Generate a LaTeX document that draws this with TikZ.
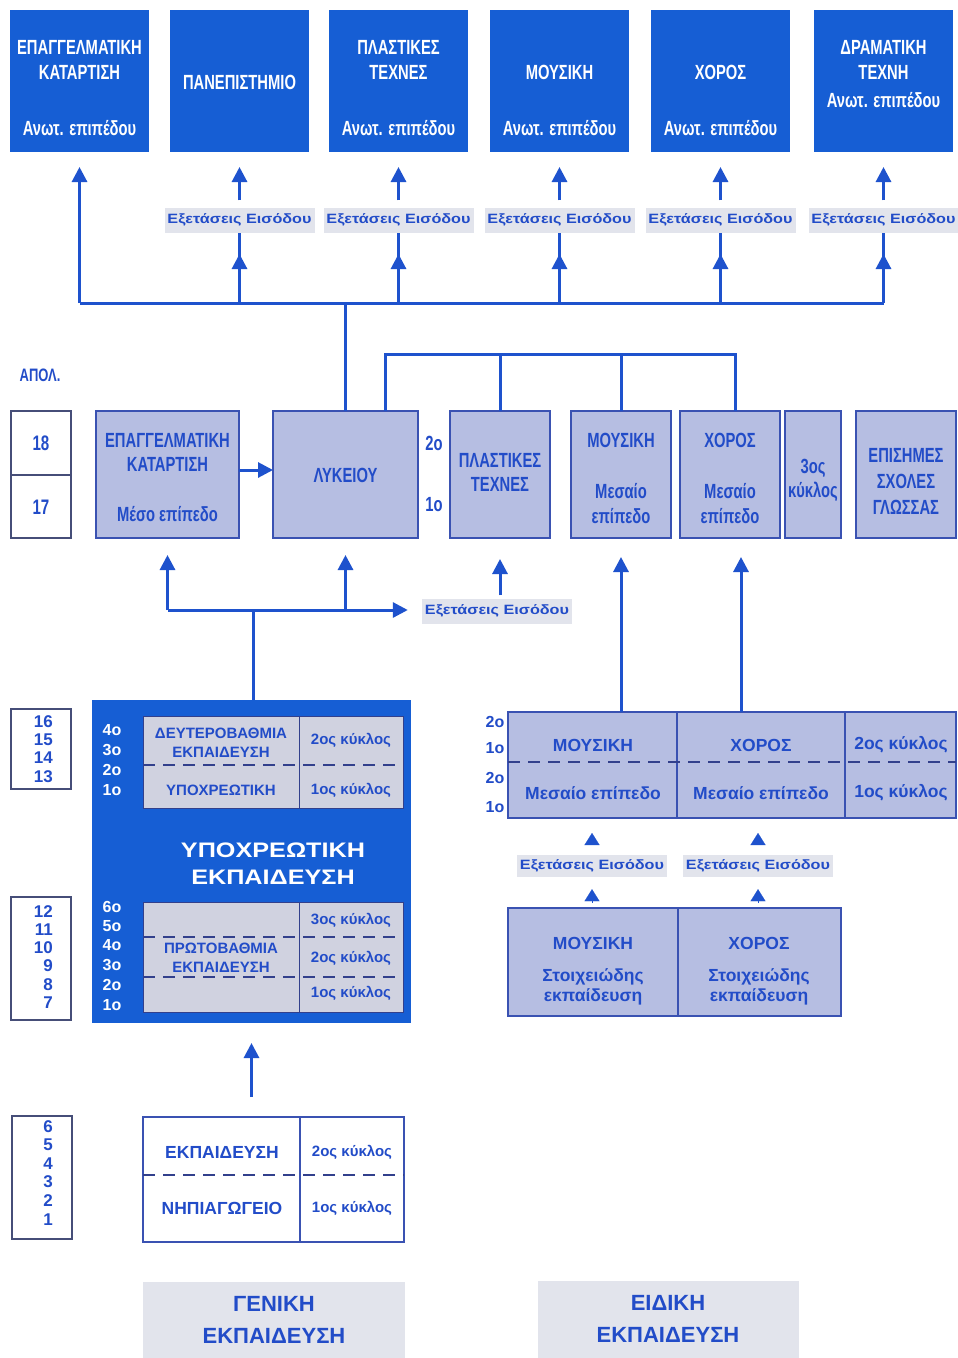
\documentclass[tikz,border=0pt]{standalone}
\usepackage{fontspec}
\setmainfont{Liberation Sans}
\newfontfamily\condf[FakeStretch=0.72]{Liberation Sans}
\newfontfamily\widef[FakeStretch=1.2]{Liberation Sans}
\usetikzlibrary{arrows.meta}
\definecolor{dblue}{RGB}{22,94,212}
\definecolor{lblue}{RGB}{182,190,226}
\definecolor{tblue}{RGB}{34,76,200}
\definecolor{cblue}{RGB}{30,82,205}
\definecolor{pgray}{RGB}{208,210,224}
\definecolor{xgray}{RGB}{226,228,236}
\definecolor{bord}{RGB}{58,82,178}
\definecolor{navy}{RGB}{50,64,140}
\definecolor{ageb}{RGB}{70,78,120}
\begin{document}
\begin{tikzpicture}[x=1pt,y=-1pt,
  box/.style={anchor=north west, inner sep=0pt, outer sep=0pt},
  topbox/.style={box, fill=dblue, minimum width=139pt, minimum height=142pt},
  midbox/.style={box, fill=lblue, draw=bord, line width=2pt, minimum height=127pt},
  panel/.style={box, fill=pgray, draw=navy, line width=0.8pt},
  rcell/.style={box, fill=lblue, draw=bord, line width=2pt},
  wcell/.style={box, fill=white, draw=bord, line width=1.5pt},
  agebox/.style={box, draw=ageb, line width=1.5pt, minimum width=60pt},
  graybox/.style={box, fill=xgray},
  exlab/.style={fill=xgray, minimum width=150pt, minimum height=25pt, inner sep=0pt, text=tblue, font=\widef\bfseries\fontsize{13.5}{15}\selectfont},
  toptxt/.style={inner sep=0pt, text=white, font=\condf\bfseries\fontsize{20.5}{22}\selectfont},
  midtxt/.style={inner sep=0pt, text=tblue, font=\condf\bfseries\fontsize{20.5}{23}\selectfont},
  pantxt/.style={inner sep=0pt, text=tblue, font=\bfseries\fontsize{15}{17}\selectfont},
  rtxt/.style={inner sep=0pt, text=tblue, font=\bfseries\fontsize{17.5}{19}\selectfont},
  gradew/.style={inner sep=0pt, text=white, font=\bfseries\fontsize{16}{18}\selectfont},
  grader/.style={inner sep=0pt, text=tblue, font=\bfseries\fontsize{16}{18}\selectfont},
  agenum/.style={inner sep=0pt, anchor=east, text=tblue, font=\bfseries\fontsize{17}{18}\selectfont},
  bignum/.style={inner sep=0pt, text=tblue, font=\condf\bfseries\fontsize{21}{23}\selectfont},
  titletxt/.style={inner sep=0pt, text=white, font=\widef\bfseries\fontsize{21}{24}\selectfont},
  gentxt/.style={inner sep=0pt, text=tblue, font=\bfseries\fontsize{22}{24}\selectfont},
  line/.style={draw=cblue, line width=3pt},
  arr/.style={line, -{Triangle[length=15pt,width=15pt]}},
  tri/.style={draw=cblue, line width=0.1pt, -{Triangle[length=12pt,width=15pt]}},
  dashln/.style={draw=navy, line width=2pt, dash pattern=on 12pt off 8pt}
]
\fill[white] (0,0) rectangle (958,1358);
\useasboundingbox (0,0) rectangle (958,1358);

% ---------- top row ----------
\node[topbox] (t1) at (10,10) {};
\node[topbox] (t2) at (170,10) {};
\node[topbox] (t3) at (329,10) {};
\node[topbox] (t4) at (490,10) {};
\node[topbox] (t5) at (651,10) {};
\node[topbox] (t6) at (814,10) {};

\node[toptxt] (t1a) at (79.5,47) {ΕΠΑΓΓΕΛΜΑΤΙΚΗ};
\node[toptxt] (t1b) at (79.5,72) {ΚΑΤΑΡΤΙΣΗ};
\node[toptxt] (t1c) at (79.5,128) {Ανωτ. επιπέδου};
\node[toptxt] (t2a) at (239.5,82) {ΠΑΝΕΠΙΣΤΗΜΙΟ};
\node[toptxt] (t3a) at (398.5,47) {ΠΛΑΣΤΙΚΕΣ};
\node[toptxt] (t3b) at (398.5,72) {ΤΕΧΝΕΣ};
\node[toptxt] (t3c) at (398.5,128) {Ανωτ. επιπέδου};
\node[toptxt] (t4a) at (559.5,72) {ΜΟΥΣΙΚΗ};
\node[toptxt] (t4c) at (559.5,128) {Ανωτ. επιπέδου};
\node[toptxt] (t5a) at (720.5,72) {ΧΟΡΟΣ};
\node[toptxt] (t5c) at (720.5,128) {Ανωτ. επιπέδου};
\node[toptxt] (t6a) at (883.5,47) {ΔΡΑΜΑΤΙΚΗ};
\node[toptxt] (t6b) at (883.5,72) {ΤΕΧΝΗ};
\node[toptxt] (t6c) at (883.5,100) {Ανωτ. επιπέδου};

\coordinate (hl) at (0,303);
\foreach \k in {2,...,6}{
  \node[exlab] (e\k) at (t\k.south |- 0,220) {Εξετάσεις Εισόδου};
  \draw[line] (t\k.south |- hl) -- (e\k.south);
  \draw[arr] (t\k.south |- hl) -- (t\k.south |- 0,254);
  \draw[arr, shorten <=7pt, shorten >=15pt] (e\k.north) -- (t\k.south);
}
\draw[line] (t1.south |- hl) -- (t6.south |- hl);
\draw[arr, shorten >=15pt] (t1.south |- hl) -- (t1.south);

% ---------- middle row ----------
\node[inner sep=0pt, text=tblue, font=\condf\bfseries\fontsize{18}{20}\selectfont] (apol) at (40,375) {ΑΠΟΛ.};

\node[agebox, minimum height=127pt] (ag1) at (11,411) {};
\draw[draw=ageb, line width=1.5pt] (ag1.west |- 0,475) -- (ag1.east |- 0,475);
\node[bignum] (n18) at (41,443) {18};
\node[bignum] (n17) at (41,507) {17};

\node[midbox, minimum width=143pt] (ek) at (96,411) {};
\node[midbox, minimum width=145pt] (lyk) at (273,411) {};
\node[midbox, minimum width=100pt] (pl) at (450,411) {};
\node[midbox, minimum width=100pt] (mou) at (571,411) {};
\node[midbox, minimum width=100pt] (xor) at (680,411) {};
\node[midbox, minimum width=56pt] (c3) at (785,411) {};
\node[midbox, minimum width=100pt] (ep) at (856,411) {};

\node[midtxt] (eka) at (167.5,440) {ΕΠΑΓΓΕΛΜΑΤΙΚΗ};
\node[midtxt] (ekb) at (167.5,464) {ΚΑΤΑΡΤΙΣΗ};
\node[midtxt] (ekc) at (167.5,514) {Μέσο επίπεδο};
\node[midtxt] (lyka) at (345.5,475) {ΛΥΚΕΙΟΥ};
\node[midtxt] (o2) at (434,443) {2ο};
\node[midtxt] (o1) at (434,505) {1ο};
\node[midtxt] (pla) at (500,460) {ΠΛΑΣΤΙΚΕΣ};
\node[midtxt] (plb) at (500,484) {ΤΕΧΝΕΣ};
\node[midtxt] (moua) at (621,440) {ΜΟΥΣΙΚΗ};
\node[midtxt] (moub) at (621,491) {Μεσαίο};
\node[midtxt] (mouc) at (621,516) {επίπεδο};
\node[midtxt] (xora) at (730,440) {ΧΟΡΟΣ};
\node[midtxt] (xorb) at (730,491) {Μεσαίο};
\node[midtxt] (xorc) at (730,516) {επίπεδο};
\node[midtxt] (c3a) at (813,468) {3ος};
\node[midtxt] (c3b) at (813,492) {κύκλος};
\node[midtxt] (epa) at (906,455) {ΕΠΙΣΗΜΕΣ};
\node[midtxt] (epb) at (906,481) {ΣΧΟΛΕΣ};
\node[midtxt] (epc) at (906,507) {ΓΛΩΣΣΑΣ};

\draw[arr] (ek.east |- 0,470) -- (lyk.west |- 0,470);
\draw[line] (lyk.north) -- (lyk.north |- hl);
\coordinate (h1) at (385,354);
\coordinate (h2) at (735,354);
\draw[line] (lyk.north -| h1) -- (h1) -- (h2) -- (h2 |- xor.north);
\draw[line] (pl.north) -- (pl.north |- h1);
\draw[line] (mou.north) -- (mou.north |- h1);

% ---------- big compulsory block ----------
\node[box, fill=dblue, minimum width=319pt, minimum height=323pt] (ub) at (92,700) {};

\coordinate (j) at (253,610);
\node[exlab] (ml) at (497,611) {Εξετάσεις Εισόδου};
\draw[arr, shorten >=14pt] (ek.south |- j) -- (j -| ml.west);
\draw[line] (ub.north -| j) -- (j);
\draw[arr, shorten >=17pt] (ek.south |- j) -- (ek.south);
\draw[arr, shorten >=17pt] (lyk.south |- j) -- (lyk.south);
\draw[arr, shorten <=3pt, shorten >=21pt] (pl.south |- ml.north) -- (pl.south);

\node[panel, minimum width=156pt, minimum height=92pt] (up1) at (143,716) {};
\node[panel, minimum width=104pt, minimum height=92pt] (up2) at (299,716) {};
\draw[dashln] (up1.west |- 0,765) -- (up2.east |- 0,765);
\node[pantxt] (u1) at (221,733) {ΔΕΥΤΕΡΟΒΑΘΜΙΑ};
\node[pantxt] (u2) at (221,752) {ΕΚΠΑΙΔΕΥΣΗ};
\node[pantxt] (u3) at (221,790) {ΥΠΟΧΡΕΩΤΙΚΗ};
\node[pantxt] (u4) at (351,740) {2ος κύκλος};
\node[pantxt] (u5) at (351,790) {1ος κύκλος};

\node[titletxt] (ti1) at (273,850) {ΥΠΟΧΡΕΩΤΙΚΗ};
\node[titletxt] (ti2) at (273,877) {ΕΚΠΑΙΔΕΥΣΗ};

\node[panel, minimum width=156pt, minimum height=110pt] (lp1) at (143,902) {};
\node[panel, minimum width=104pt, minimum height=110pt] (lp2) at (299,902) {};
\draw[dashln] (lp1.west |- 0,937) -- (lp2.east |- 0,937);
\draw[dashln] (lp1.west |- 0,977) -- (lp2.east |- 0,977);
\node[pantxt] (l1) at (221,948) {ΠΡΩΤΟΒΑΘΜΙΑ};
\node[pantxt] (l2) at (221,967) {ΕΚΠΑΙΔΕΥΣΗ};
\node[pantxt] (l3) at (351,920) {3ος κύκλος};
\node[pantxt] (l4) at (351,958) {2ος κύκλος};
\node[pantxt] (l5) at (351,993) {1ος κύκλος};

\foreach \g/\yy in {4/730,3/750,2/770,1/790}{
  \node[gradew] (gu\g) at (112,\yy) {\g ο};
}
\foreach \g/\yy in {6/907,5/926,4/945,3/965,2/985,1/1005}{
  \node[gradew] (gl\g) at (112,\yy) {\g ο};
}

\node[agebox, minimum height=80pt] (ag2) at (11,709) {};
\foreach \n/\yy in {16/722,15/740,14/758,13/777}{
  \node[agenum] (a\n) at (53,\yy) {\n};
}
\node[agebox, minimum height=123pt] (ag3) at (11,897) {};
\foreach \n/\yy in {12/912,11/930,10/948,9/966,8/985,7/1003}{
  \node[agenum] (a\n) at (53,\yy) {\n};
}

% ---------- pre-school ----------
\node[wcell, minimum width=157pt, minimum height=125pt] (bb1) at (143,1117) {};
\node[wcell, minimum width=104pt, minimum height=125pt] (bb2) at (300,1117) {};
\draw[dashln] (bb1.west |- 0,1175) -- (bb2.east |- 0,1175);
\node[rtxt] (b1) at (222,1152) {ΕΚΠΑΙΔΕΥΣΗ};
\node[rtxt] (b2) at (222,1208) {ΝΗΠΙΑΓΩΓΕΙΟ};
\node[pantxt] (b3) at (352,1152) {2ος κύκλος};
\node[pantxt] (b4) at (352,1208) {1ος κύκλος};
\draw[arr, shorten <=20pt, shorten >=20pt] (ub.south |- bb1.north) -- (ub.south);

\node[agebox, minimum height=123pt] (ag4) at (12,1116) {};
\foreach \n/\yy in {6/1127,5/1145,4/1164,3/1182,2/1201,1/1220}{
  \node[agenum] (b\n) at (53,\yy) {\n};
}

\node[graybox, minimum width=262pt, minimum height=76pt] (gen) at (143,1282) {};
\node[gentxt] (gen1) at (274,1304) {ΓΕΝΙΚΗ};
\node[gentxt] (gen2) at (274,1336) {ΕΚΠΑΙΔΕΥΣΗ};
\node[graybox, minimum width=261pt, minimum height=77pt] (eid) at (538,1281) {};
\node[gentxt] (eid1) at (668,1303) {ΕΙΔΙΚΗ};
\node[gentxt] (eid2) at (668,1335) {ΕΚΠΑΙΔΕΥΣΗ};

% ---------- special education ----------
\node[rcell, minimum width=169pt, minimum height=106pt] (rm) at (508,712) {};
\node[rcell, minimum width=168pt, minimum height=106pt] (rx) at (677,712) {};
\node[rcell, minimum width=111pt, minimum height=106pt] (rc) at (845,712) {};
\draw[dashln] (rm.west |- 0,762) -- (rc.east |- 0,762);
\node[rtxt] (r1) at (593,745) {ΜΟΥΣΙΚΗ};
\node[rtxt] (r2) at (593,793) {Μεσαίο επίπεδο};
\node[rtxt] (r3) at (761,745) {ΧΟΡΟΣ};
\node[rtxt] (r4) at (761,793) {Μεσαίο επίπεδο};
\node[rtxt] (r5) at (901,745) {2ος κύκλος};
\node[rtxt] (r6) at (901,793) {1ος κύκλος};
\foreach \t/\yy/\nm in {2/722/ra,1/748/rb,2/778/rc2,1/807/rd}{
  \node[grader] (\nm) at (495,\yy) {\t ο};
}
\draw[arr, shorten >=19pt] (mou.south |- rm.north) -- (mou.south);
\draw[arr, shorten >=19pt] ([xshift=11pt]xor.south |- rx.north) -- ([xshift=11pt]xor.south);

\node[rcell, minimum width=170pt, minimum height=108pt] (sm) at (508,908) {};
\node[rcell, minimum width=163pt, minimum height=108pt] (sx) at (678,908) {};
\node[rtxt] (s1) at (593,943) {ΜΟΥΣΙΚΗ};
\node[rtxt] (s2) at (593,977) {Στοιχειώδης};
\node[rtxt] (s3) at (593,997) {εκπαίδευση};
\node[rtxt] (s4) at (759,943) {ΧΟΡΟΣ};
\node[rtxt] (s5) at (759,977) {Στοιχειώδης};
\node[rtxt] (s6) at (759,997) {εκπαίδευση};

\node[exlab, minimum width=150pt, minimum height=22pt] (el1) at (592,866) {Εξετάσεις Εισόδου};
\node[exlab, minimum width=150pt, minimum height=22pt] (el2) at (758,866) {Εξετάσεις Εισόδου};
\draw[tri, shorten <=5pt, shorten >=12pt] (sm.north -| el1.south) -- (el1.south);
\draw[tri, shorten <=5pt, shorten >=12pt] (sx.north -| el2.south) -- (el2.south);
\draw[tri, shorten <=11pt, shorten >=15pt] (el1.north) -- (el1.north |- rm.south);
\draw[tri, shorten <=11pt, shorten >=15pt] (el2.north) -- (el2.north |- rx.south);
\end{tikzpicture}
\end{document}
